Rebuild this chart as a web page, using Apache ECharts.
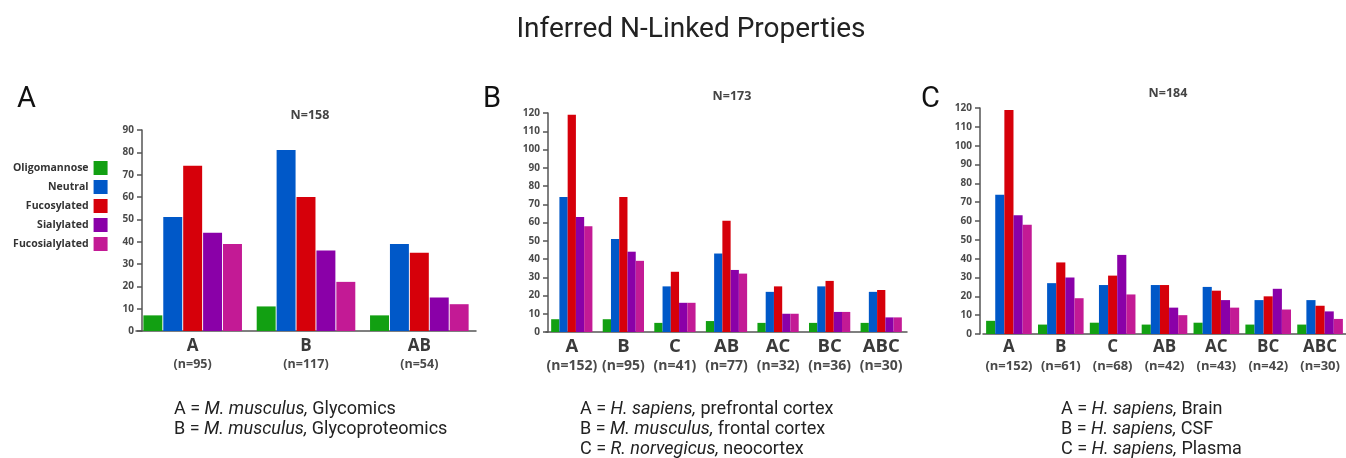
<!DOCTYPE html>
<html>
<head>
<meta charset="utf-8">
<script src="https://cdn.jsdelivr.net/npm/echarts@6/dist/echarts.min.js"></script>
<style>
html,body{margin:0;padding:0;background:#fff;}
#c{width:1346px;height:458px;}
</style>
</head>
<body>
<div id="c"></div>
<script>
// ---------- data ----------
const seriesNames = ['Oligomannose', 'Neutral', 'Fucosylated', 'Sialylated', 'Fucosialylated'];
const colors = ['#12a012', '#0058c8', '#d6000a', '#8a00a8', '#c31a95'];

const catsA = ['A', 'B', 'AB'];
const nA = ['(n=95)', '(n=117)', '(n=54)'];
const oligoA = [7, 11, 7];
const neutralA = [51, 81, 39];
const fucoA = [74, 60, 35];
const sialA = [44, 36, 15];
const fucosialA = [39, 22, 12];

const catsB = ['A', 'B', 'C', 'AB', 'AC', 'BC', 'ABC'];
const nB = ['(n=152)', '(n=95)', '(n=41)', '(n=77)', '(n=32)', '(n=36)', '(n=30)'];
const oligoB = [7, 7, 5, 6, 5, 5, 5];
const neutralB = [74, 51, 25, 43, 22, 25, 22];
const fucoB = [119, 74, 33, 61, 25, 28, 23];
const sialB = [63, 44, 16, 34, 10, 11, 8];
const fucosialB = [58, 39, 16, 32, 10, 11, 8];

const catsC = ['A', 'B', 'C', 'AB', 'AC', 'BC', 'ABC'];
const nC = ['(n=152)', '(n=61)', '(n=68)', '(n=42)', '(n=43)', '(n=42)', '(n=30)'];
const oligoC = [7, 5, 6, 5, 6, 5, 5];
const neutralC = [74, 27, 26, 26, 25, 18, 18];
const fucoC = [119, 38, 31, 26, 23, 20, 15];
const sialC = [63, 30, 42, 14, 18, 24, 12];
const fucosialC = [58, 19, 21, 10, 14, 13, 8];

const totals = ['N=158', 'N=173', 'N=184'];
const panelLetters = ['A', 'B', 'C'];
const mainTitle = 'Inferred N-Linked Properties';
const yTicksA = {min: 0, max: 90, interval: 10};
const yTicksBC = {min: 0, max: 120, interval: 10};

// ---------- build ----------
const labelFont = '"Open Sans", "DejaVu Sans", sans-serif';
const chart = echarts.init(document.getElementById('c'));

const panels = [
  {cats: catsA, n: nA, data: [oligoA, neutralA, fucoA, sialA, fucosialA], y: yTicksA,
   grid: {left: 136, top: 130, width: 340, bottom: 127}, yOffset: -6, catGap: '13%', barGap: '5%',
   big: 17, small: 12.5, lhA: 20, lhB: 17, margin: 5},
  {cats: catsB, n: nB, data: [oligoB, neutralB, fucoB, sialB, fucosialB], y: yTicksBC,
   grid: {left: 546, top: 113, width: 361, bottom: 126}, yOffset: -2, catGap: '20%', barGap: '0%',
   big: 18.5, small: 14, lhA: 21, lhB: 19, margin: 4},
  {cats: catsC, n: nC, data: [oligoC, neutralC, fucoC, sialC, fucosialC], y: yTicksBC,
   grid: {left: 983, top: 108, width: 363, bottom: 124}, yOffset: 3, catGap: '12%', barGap: '0%',
   big: 17, small: 13, lhA: 19, lhB: 18, margin: 4}
];

const grids = [], xAxes = [], yAxes = [], series = [];
panels.forEach((p, gi) => {
  grids.push(Object.assign({containLabel: false}, p.grid));
  xAxes.push({
    type: 'category', gridIndex: gi, data: p.cats,
    axisLine: {lineStyle: {color: '#555', width: 1.5}},
    axisTick: {alignWithLabel: true, length: 5, lineStyle: {color: '#555', width: 1.5}},
    axisLabel: {
      interval: 0, margin: p.margin,
      formatter: (v, i) => '{a|' + v + '}\n{b|' + p.n[i] + '}',
      rich: {
        a: {fontSize: p.big, fontWeight: 'bold', color: '#3a3a3a', fontFamily: labelFont, lineHeight: p.lhA},
        b: {fontSize: p.small, fontWeight: 'bold', color: '#4a4a4a', fontFamily: labelFont, lineHeight: p.lhB}
      }
    }
  });
  yAxes.push({
    type: 'value', gridIndex: gi, min: p.y.min, max: p.y.max, interval: p.y.interval,
    offset: p.yOffset,
    splitLine: {show: false},
    axisLine: {show: true, lineStyle: {color: '#555', width: 1.5}},
    axisTick: {show: true, length: 5, lineStyle: {color: '#555', width: 1.5}},
    axisLabel: {fontSize: 10, fontWeight: 'bold', color: '#4a4a4a', fontFamily: labelFont, margin: 8}
  });
  p.data.forEach((arr, si) => {
    series.push({
      type: 'bar', name: seriesNames[si], xAxisIndex: gi, yAxisIndex: gi, data: arr,
      itemStyle: {color: colors[si]},
      barGap: p.barGap, barCategoryGap: p.catGap
    });
  });
});

const letterStyle = {fontSize: 29, fontWeight: 'normal', color: '#111', fontFamily: 'Roboto, sans-serif'};
const totStyle = {fontSize: 12.5, fontWeight: 'bold', color: '#444', fontFamily: labelFont};
const titles = [
  {text: mainTitle, left: 686, textAlign: 'center', top: 11,
   textStyle: {fontSize: 28, fontWeight: 'normal', color: '#222', fontFamily: 'Roboto, sans-serif'}},
  {text: panelLetters[0], left: 12, top: 80, textStyle: letterStyle},
  {text: panelLetters[1], left: 478, top: 80, textStyle: letterStyle},
  {text: panelLetters[2], left: 916, top: 80, textStyle: letterStyle},
  {text: totals[0], left: 305, textAlign: 'center', top: 104, textStyle: totStyle},
  {text: totals[1], left: 727, textAlign: 'center', top: 85, textStyle: totStyle},
  {text: totals[2], left: 1163, textAlign: 'center', top: 82, textStyle: totStyle}
];

const footRich = {
  n: {fontSize: 18, fontWeight: 'normal', color: '#222', fontFamily: 'Roboto, sans-serif', lineHeight: 20},
  i: {fontSize: 18, fontWeight: 'normal', color: '#222', fontStyle: 'italic', fontFamily: 'Roboto, sans-serif', lineHeight: 20}
};
const footnotes = [
  {left: 174, lines: [['A = ', 'M. musculus,', ' Glycomics'], ['B = ', 'M. musculus,', ' Glycoproteomics']]},
  {left: 580, lines: [['A = ', 'H. sapiens,', ' prefrontal cortex'], ['B = ', 'M. musculus,', ' frontal cortex'], ['C = ', 'R. norvegicus,', ' neocortex']]},
  {left: 1061, lines: [['A = ', 'H. sapiens,', ' Brain'], ['B = ', 'H. sapiens,', ' CSF'], ['C = ', 'H. sapiens,', ' Plasma']]}
];
footnotes.forEach(f => {
  titles.push({
    left: f.left, top: 399, padding: 0,
    text: f.lines.map(l => '{n|' + l[0] + '}{i|' + l[1] + '}{n|' + l[2] + '}').join('\n'),
    textStyle: {rich: footRich, lineHeight: 20, fontWeight: 'normal'}
  });
});

chart.setOption({
  animation: false,
  backgroundColor: '#fff',
  title: titles,
  legend: {
    orient: 'vertical', left: 8, top: 156, align: 'right',
    itemWidth: 14, itemHeight: 14, itemGap: 5, icon: 'rect',
    data: seriesNames,
    textStyle: {fontSize: 10.5, fontWeight: 'bold', color: '#333', fontFamily: labelFont, width: 74, align: 'right'}
  },
  grid: grids,
  xAxis: xAxes,
  yAxis: yAxes,
  series: series
});
</script>
</body>
</html>
